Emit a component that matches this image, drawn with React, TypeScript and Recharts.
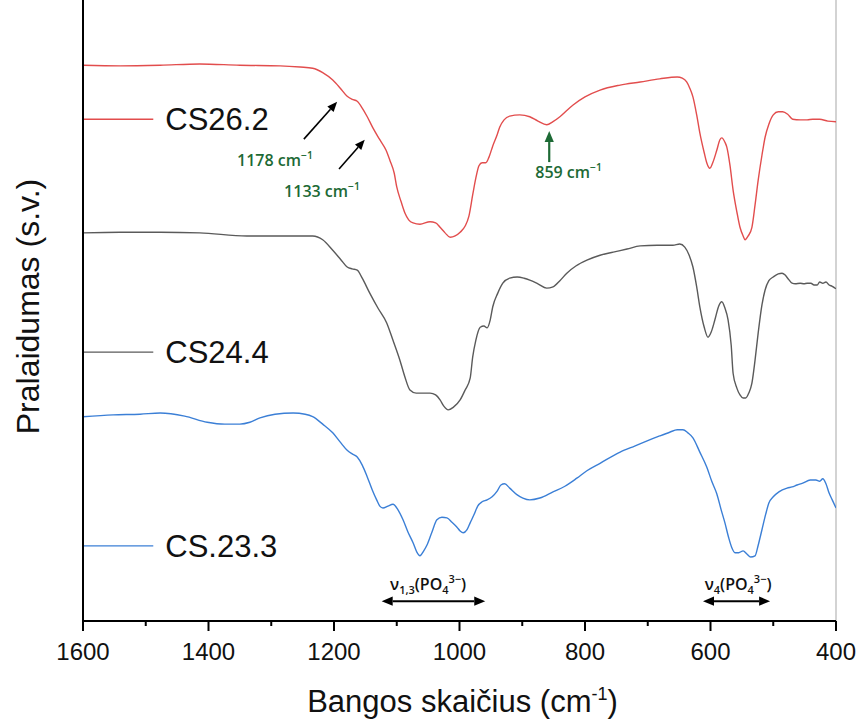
import { LineChart, Line, XAxis, YAxis, ReferenceLine, ReferenceDot, Label } from 'recharts'

const W = 859
const H = 720

const FONT = '"Liberation Sans", Arial, sans-serif'
const NOTE_FONT = '"Open Sans", sans-serif'
const GREEN = '#1d6a35'

// ── Spectra (wavenumber, cm-1 / transmittance, a.u.) ───────────────────────
const RED_WAVE = [1600, 1541, 1477, 1414, 1350, 1286, 1254, 1234, 1218, 1202, 1190, 1179, 1171, 1163, 1155, 1147, 1138, 1127, 1117, 1111, 1104, 1100, 1093, 1087, 1081, 1074, 1063, 1047, 1038, 1031, 1023, 1015, 1007, 999, 991, 985, 979, 974, 969, 964, 958, 953, 947, 940, 936, 929, 920, 904, 888, 875, 861, 851, 840, 819, 800, 776, 744, 712, 681, 653, 645, 638, 633, 628, 622, 617, 610, 606, 601, 596, 590, 585, 582, 577, 574, 569, 564, 558, 553, 548, 545, 540, 534, 529, 524, 518, 513, 507, 500, 492, 485, 477, 469, 457, 446, 437, 426, 413, 400]
const RED_T = [89.5, 89.4, 89.5, 89.7, 89.5, 89.4, 89.2, 89.0, 88.3, 87.1, 85.8, 84.5, 84.0, 83.7, 82.6, 81.2, 79.4, 77.5, 75.8, 74.2, 72.1, 69.9, 67.5, 65.7, 64.6, 64.1, 63.9, 64.3, 64.1, 63.4, 62.5, 61.8, 62.0, 62.6, 63.6, 65.2, 68.6, 71.3, 73.3, 73.8, 73.8, 74.7, 76.5, 78.3, 79.5, 80.7, 81.3, 81.5, 81.2, 80.5, 79.9, 80.4, 81.2, 83.1, 84.4, 85.5, 86.3, 86.8, 87.3, 87.6, 87.4, 86.8, 85.8, 84.4, 81.5, 78.6, 75.4, 73.8, 72.9, 73.9, 75.8, 77.5, 77.8, 77.1, 76.3, 73.4, 69.4, 65.9, 63.4, 62.0, 61.4, 62.0, 63.4, 67.0, 71.0, 75.0, 77.9, 80.0, 81.5, 82.0, 82.0, 81.6, 80.8, 80.7, 80.7, 80.8, 80.8, 80.5, 80.4]

const GRAY_WAVE = [1600, 1541, 1477, 1414, 1339, 1286, 1234, 1218, 1202, 1190, 1179, 1171, 1163, 1155, 1143, 1130, 1116, 1106, 1095, 1087, 1079, 1069, 1058, 1047, 1038, 1031, 1025, 1018, 1010, 999, 991, 983, 979, 974, 967, 961, 956, 951, 947, 939, 931, 920, 908, 897, 888, 875, 861, 851, 840, 829, 814, 797, 776, 755, 733, 712, 685, 660, 649, 641, 634, 628, 622, 617, 610, 604, 599, 593, 587, 582, 577, 572, 567, 564, 558, 553, 548, 544, 539, 534, 529, 524, 518, 513, 507, 500, 492, 486, 481, 477, 470, 465, 457, 451, 446, 440, 435, 430, 426, 421, 416, 411, 406, 400]
const GRAY_T = [62.5, 62.6, 62.6, 62.5, 62.0, 62.0, 62.0, 61.4, 59.7, 58.3, 57.0, 56.7, 56.5, 55.2, 52.8, 50.4, 48.0, 45.2, 42.0, 39.3, 37.2, 36.7, 36.7, 36.7, 36.4, 35.6, 34.6, 34.0, 34.4, 35.6, 37.2, 39.1, 42.5, 45.2, 47.3, 47.5, 47.2, 48.5, 50.6, 52.8, 54.4, 55.2, 55.4, 55.2, 54.9, 54.3, 53.6, 53.8, 54.8, 56.0, 57.2, 58.1, 58.9, 59.4, 59.9, 60.4, 60.5, 60.5, 60.7, 60.2, 58.9, 57.0, 53.8, 50.6, 47.3, 45.7, 46.5, 48.5, 50.7, 51.4, 50.4, 48.5, 44.4, 39.9, 37.5, 36.4, 35.9, 35.9, 36.7, 38.3, 42.0, 46.4, 50.9, 53.3, 54.8, 55.4, 55.9, 56.0, 55.7, 55.2, 54.4, 54.3, 54.4, 54.3, 54.4, 54.4, 54.1, 54.1, 54.6, 54.4, 54.6, 54.1, 53.9, 53.5]

const BLUE_WAVE = [1600, 1552, 1509, 1477, 1438, 1402, 1374, 1350, 1334, 1318, 1294, 1265, 1246, 1234, 1218, 1202, 1190, 1179, 1171, 1163, 1155, 1147, 1139, 1132, 1127, 1122, 1114, 1106, 1098, 1090, 1082, 1074, 1068, 1063, 1057, 1052, 1044, 1036, 1028, 1020, 1012, 1004, 999, 994, 988, 983, 977, 971, 964, 956, 948, 940, 934, 928, 920, 908, 899, 888, 872, 851, 832, 813, 797, 776, 744, 720, 701, 681, 665, 653, 644, 636, 628, 617, 606, 598, 590, 583, 577, 571, 566, 561, 555, 548, 542, 536, 529, 524, 518, 512, 507, 500, 491, 478, 470, 462, 453, 441, 432, 426, 421, 416, 411, 406, 400]
const BLUE_T = [32.9, 33.2, 33.3, 33.5, 33.0, 32.0, 31.7, 31.7, 32.0, 32.7, 33.3, 33.5, 33.3, 32.9, 31.7, 30.3, 28.8, 27.5, 26.9, 26.4, 25.1, 23.2, 21.1, 19.5, 18.5, 18.2, 18.5, 18.8, 17.9, 16.3, 14.3, 12.6, 11.1, 10.5, 11.3, 12.2, 14.3, 16.3, 16.7, 16.6, 15.9, 15.1, 14.5, 14.2, 14.7, 15.8, 17.1, 18.5, 19.2, 19.5, 20.0, 20.9, 21.9, 22.1, 21.4, 20.3, 19.8, 19.5, 19.8, 20.8, 21.7, 23.0, 24.2, 25.4, 27.2, 28.2, 29.0, 29.8, 30.4, 30.8, 30.8, 30.3, 29.5, 27.2, 24.8, 22.5, 20.5, 17.9, 15.8, 13.4, 11.8, 11.0, 11.0, 11.3, 10.8, 10.3, 10.5, 12.2, 14.7, 17.2, 19.0, 20.0, 20.8, 21.4, 21.6, 21.9, 22.2, 22.7, 22.7, 22.5, 22.9, 22.1, 20.6, 19.5, 18.2]

const SAMPLE_NAMES = ['CS26.2', 'CS24.4', 'CS.23.3']
const X_TICKS = [1600, 1500, 1400, 1300, 1200, 1100, 1000, 900, 800, 700, 600, 500, 400]
const PEAK_NOTES = ['1178', '1133', '859']

const toRows = (wave: number[], t: number[]) => wave.map((w, i) => ({ w, t: t[i] }))

const series = [
  { name: SAMPLE_NAMES[0], rows: toRows(RED_WAVE, RED_T), color: '#e24d4d', keyY: 80.8 },
  { name: SAMPLE_NAMES[1], rows: toRows(GRAY_WAVE, GRAY_T), color: '#5a5a5a', keyY: 43.3 },
  { name: SAMPLE_NAMES[2], rows: toRows(BLUE_WAVE, BLUE_T), color: '#3b7fd6', keyY: 12.1 },
]

// major ticks every 200 with a number, minor ticks in between
function WaveTick({ x, y, payload }: any) {
  const major = payload.value % 200 === 0
  return (
    <g>
      <line x1={x} x2={x} y1={y} y2={y + (major ? 10 : 5)} stroke="#000" strokeWidth={2} />
      {major && (
        <text x={x} y={y + 39} textAnchor="middle" fill="#111" fontSize={24} fontFamily={FONT}>
          {payload.value}
        </text>
      )}
    </g>
  )
}

function Arrow({ x1, y1, x2, y2, color = '#000', width = 1.6, head = 10, double = false }: any) {
  const dx = x2 - x1
  const dy = y2 - y1
  const len = Math.hypot(dx, dy) || 1
  const ux = dx / len
  const uy = dy / len
  const hw = head * 0.42
  const headAt = (tx: number, ty: number, sx: number, sy: number) => {
    const bx = tx - sx * head
    const by = ty - sy * head
    return `${tx},${ty} ${bx - sy * hw},${by + sx * hw} ${bx + sy * hw},${by - sx * hw}`
  }
  const sx = double ? x1 + ux * head : x1
  const sy = double ? y1 + uy * head : y1
  return (
    <g>
      <line x1={sx} y1={sy} x2={x2 - ux * head} y2={y2 - uy * head} stroke={color} strokeWidth={width} />
      <polygon points={headAt(x2, y2, ux, uy)} fill={color} />
      {double && <polygon points={headAt(x1, y1, -ux, -uy)} fill={color} />}
    </g>
  )
}

function PeakNote({ cx, cy, label }: any) {
  return (
    <text x={cx} y={cy} textAnchor="middle" fill={GREEN} fontSize={16} fontWeight={600} fontFamily={NOTE_FONT}>
      {label} cm<tspan dy={-7} fontSize={10.5}>−1</tspan>
    </text>
  )
}

function BandNote({ cx, cy, sub }: any) {
  return (
    <text x={cx} y={cy} textAnchor="middle" fill="#111" fontSize={16} fontWeight={600} fontFamily={NOTE_FONT}>
      ν<tspan dy={4} fontSize={11}>{sub}</tspan>
      <tspan dy={-4}>(PO</tspan>
      <tspan dy={4} fontSize={11}>4</tspan>
      <tspan dy={-11} fontSize={11}>3−</tspan>
      <tspan dy={7}>)</tspan>
    </text>
  )
}

export default function App() {
  return (
    <div style={{ position: 'absolute', left: 0, top: 0, background: '#fff' }}>
      <LineChart width={W} height={H} margin={{ top: 0, right: 23, bottom: 0, left: 0 }}>
        <XAxis
          type="number" dataKey="w" domain={[400, 1600]} reversed allowDataOverflow
          ticks={X_TICKS} interval={0} tickSize={0} tickMargin={0} tickLine={false}
          tick={(p: any) => <WaveTick {...p} />}
          axisLine={{ stroke: '#000', strokeWidth: 2 }} height={99}
        >
          <Label content={({ viewBox }: any) => (
            <text x={viewBox.x + viewBox.width / 2 + 3} y={viewBox.y + 91} textAnchor="middle"
              fill="#111" fontSize={31} fontFamily={FONT}>
              Bangos skaičius (cm<tspan dy={-12} fontSize={18}>-1</tspan><tspan dy={12}>)</tspan>
            </text>
          )} />
        </XAxis>
        <YAxis
          type="number" domain={[0, 100]} allowDataOverflow width={83}
          tick={false} tickLine={false} axisLine={{ stroke: '#000', strokeWidth: 2 }}
        >
          <Label content={({ viewBox }: any) => {
            const cx = viewBox.x + 28
            const cy = viewBox.y + viewBox.height / 2 - 4
            return (
              <text x={cx} y={cy} transform={`rotate(-90, ${cx}, ${cy})`} textAnchor="middle"
                dominantBaseline="central" fill="#111" fontSize={32} fontFamily={FONT}>
                Pralaidumas (s.v.)
              </text>
            )
          }} />
        </YAxis>

        <ReferenceLine x={400} stroke="#c4c4c4" strokeWidth={1.5} />

        {series.map(s => (
          <Line key={s.name} data={s.rows} dataKey="t" name={s.name} type="monotone"
            stroke={s.color} strokeWidth={1.4} dot={false} activeDot={false} isAnimationActive={false} />
        ))}

        {/* in-plot key: short line + sample name */}
        {series.map(s => (
          <ReferenceLine key={`key-${s.name}`} segment={[{ x: 1600, y: s.keyY }, { x: 1488, y: s.keyY }]}
            stroke={s.color} strokeWidth={1.4}
            label={{ value: s.name, position: 'right', offset: 12, fill: '#111', fontSize: 31, fontFamily: FONT }} />
        ))}

        {/* shoulder / band markers */}
        <ReferenceLine segment={[{ x: 1248, y: 77.6 }, { x: 1195, y: 83.6 }]} shape={(p: any) => <Arrow {...p} />} />
        <ReferenceLine segment={[{ x: 1192, y: 72.8 }, { x: 1151, y: 77.5 }]} shape={(p: any) => <Arrow {...p} />} />
        <ReferenceLine segment={[{ x: 857, y: 73.9 }, { x: 857, y: 78.9 }]}
          shape={(p: any) => <Arrow {...p} color={GREEN} width={2.2} head={11} />} />
        <ReferenceDot x={1294} y={73.3} r={1} shape={(p: any) => <PeakNote {...p} label={PEAK_NOTES[0]} />} />
        <ReferenceDot x={1219} y={68.3} r={1} shape={(p: any) => <PeakNote {...p} label={PEAK_NOTES[1]} />} />
        <ReferenceDot x={826} y={71.3} r={1} shape={(p: any) => <PeakNote {...p} label={PEAK_NOTES[2]} />} />

        <ReferenceLine segment={[{ x: 1124, y: 3.2 }, { x: 959, y: 3.2 }]}
          shape={(p: any) => <Arrow {...p} double width={2} head={11} />} />
        <ReferenceLine segment={[{ x: 612, y: 3.2 }, { x: 505, y: 3.2 }]}
          shape={(p: any) => <Arrow {...p} double width={2} head={11} />} />
        <ReferenceDot x={1050} y={5.0} r={1} shape={(p: any) => <BandNote {...p} sub="1,3" />} />
        <ReferenceDot x={556} y={5.0} r={1} shape={(p: any) => <BandNote {...p} sub="4" />} />
      </LineChart>
    </div>
  )
}
